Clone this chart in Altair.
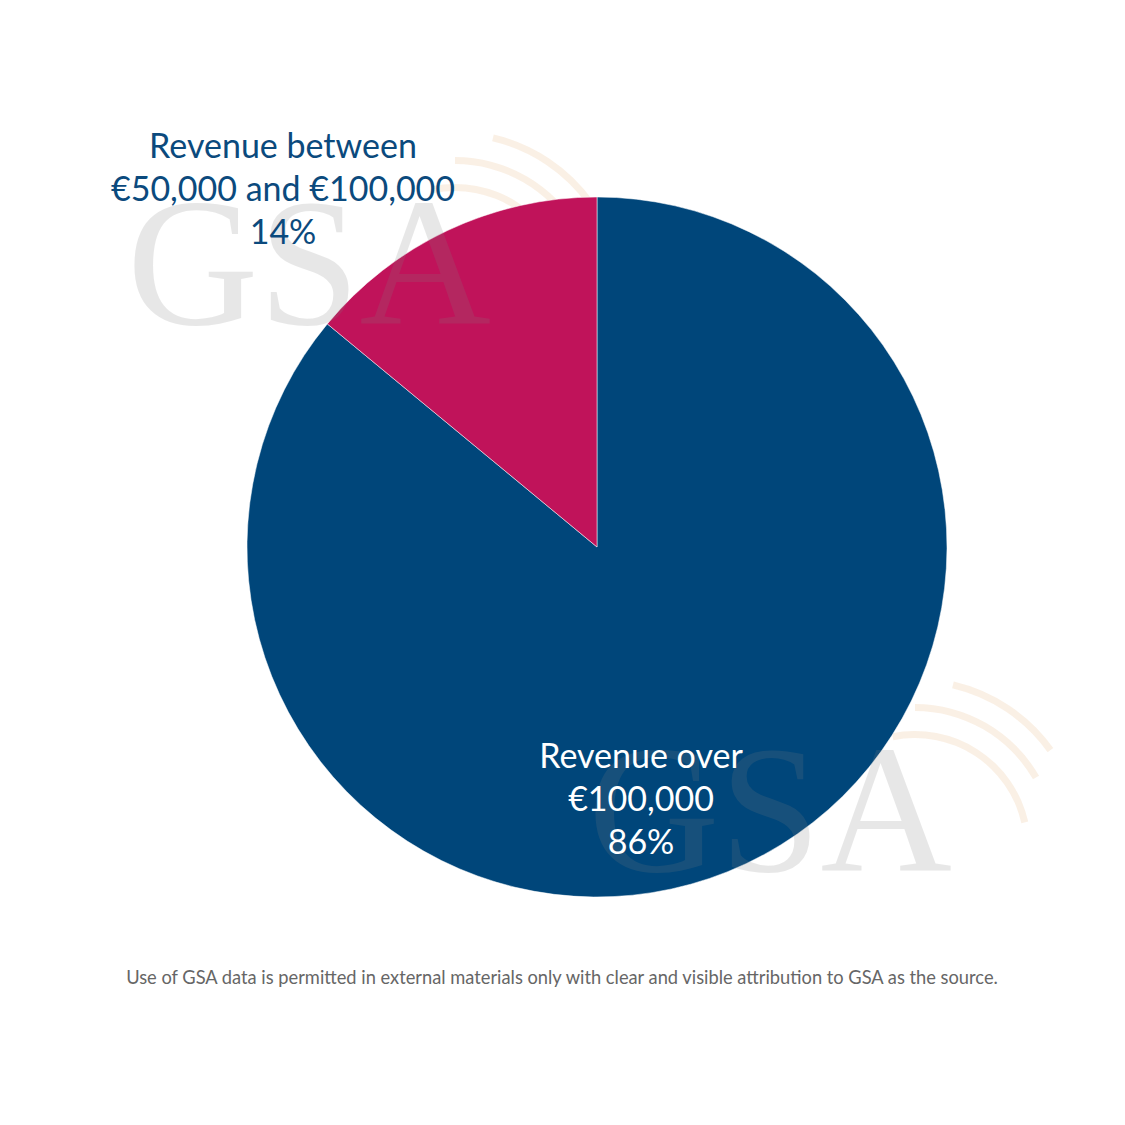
import altair as alt
import pandas as pd

categories = ["Revenue over €100,000", "Revenue between €50,000 and €100,000"]
shares = [86, 14]
colors = ["#00467A", "#C0135A"]
label_lines = [["Revenue over", "€100,000", "86%"],
               ["Revenue between", "€50,000 and €100,000", "14%"]]
footer = "Use of GSA data is permitted in external materials only with clear and visible attribution to GSA as the source."

W, H = 1109, 1109
CX, CY, R = 589, 539, 350

df = pd.DataFrame({"category": categories, "share": shares, "order": [0, 1]})

pie = alt.Chart(df).mark_arc(stroke="#ffffff", strokeWidth=1, strokeOpacity=0.5).encode(
    theta=alt.Theta("share:Q", stack=True),
    order=alt.Order("order:Q"),
    color=alt.Color("category:N", scale=alt.Scale(domain=categories, range=colors), legend=None),
    x=alt.value(CX), y=alt.value(CY), radius=alt.value(R),
)

# watermark
wm = pd.DataFrame({"t": ["GSA"]})
def wm_text(px, py):
    return alt.Chart(wm).mark_text(font="Liberation Serif", fontSize=182, color="#808080",
                                   opacity=0.18, align="center", baseline="alphabetic").encode(
        text="t:N", x=alt.value(px), y=alt.value(py))
wm1 = wm_text(301, 316)
wm2 = wm_text(762, 863)

arcs_df = pd.DataFrame({"k": [0]})
arc_specs = [(170, 0.23, 0.95), (143, 0.0, 1.05), (116, -0.2, 1.35)]
arc_layers = []
for (ax, ay) in [(447, 292), (907, 839)]:
    for (r, t0, t1) in arc_specs:
        arc_layers.append(alt.Chart(arcs_df).mark_arc(
            color="#F3D9BF", opacity=0.4).encode(
            x=alt.value(ax), y=alt.value(ay),
            theta=alt.value(t0), theta2=alt.value(t1),
            radius=alt.value(r), radius2=alt.value(r - 7)))

lab_df = pd.DataFrame({"category": categories, "label": label_lines})
lab_big = alt.Chart(lab_df.iloc[[0]]).mark_text(
    font="Lato", fontSize=34, color="#ffffff", align="center", baseline="middle",
    lineHeight=43).encode(text="label", x=alt.value(633), y=alt.value(750))
lab_small = alt.Chart(lab_df.iloc[[1]]).mark_text(
    font="Lato", fontSize=34, color="#0B4A7D", align="center", baseline="middle",
    lineHeight=43).encode(text="label", x=alt.value(275), y=alt.value(140))

foot = alt.Chart(pd.DataFrame({"t": [footer]})).mark_text(
    font="Lato", fontSize=18.3, color="#666666", align="center", baseline="middle").encode(
    text="t:N", x=alt.value(554), y=alt.value(971))

chart = alt.layer(*arc_layers, pie, wm1, wm2, lab_big, lab_small, foot).properties(
    width=W, height=H, padding=0, autosize="none"
).configure_view(stroke=None)

chart.save("out.html", embed_options={"renderer": "svg", "actions": False})
